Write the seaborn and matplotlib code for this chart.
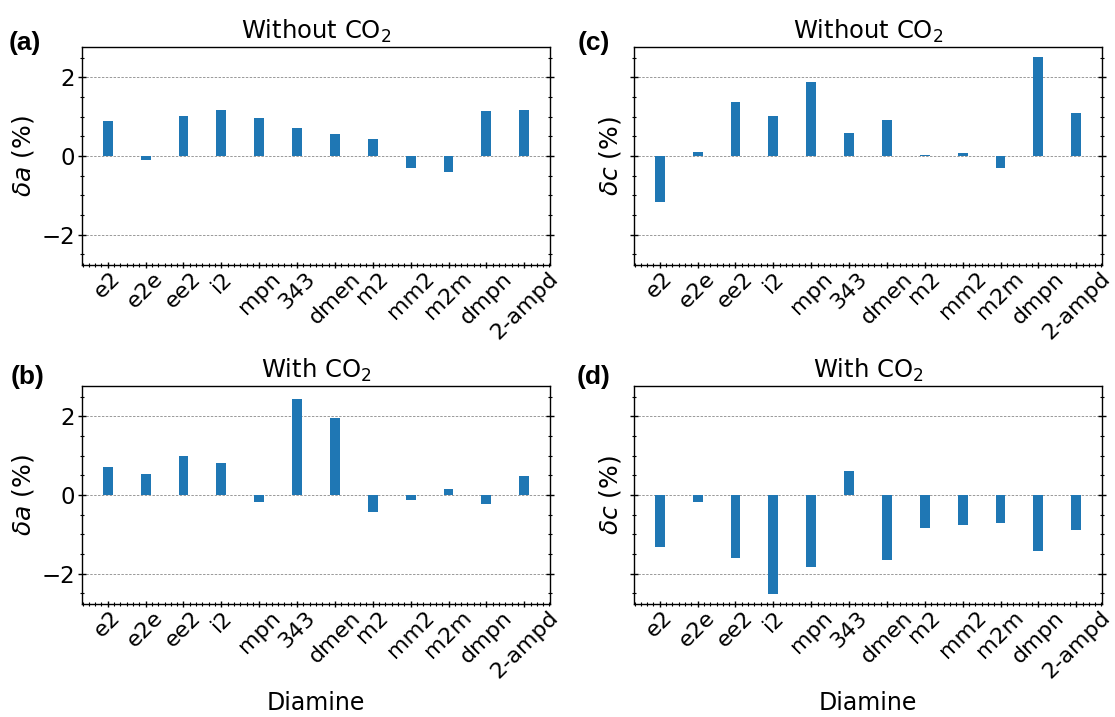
import matplotlib
matplotlib.use("Agg")
import matplotlib.pyplot as plt
from matplotlib.ticker import AutoMinorLocator, MultipleLocator
import seaborn as sns
import pandas as pd

diamines = ["e2", "e2e", "ee2", "i2", "mpn", "343", "dmen", "m2", "mm2", "m2m", "dmpn", "2-ampd"]

da_without = [0.89, -0.09, 1.02, 1.17, 0.97, 0.72, 0.57, 0.44, -0.30, -0.40, 1.15, 1.17]
da_with = [0.72, 0.54, 1.00, 0.82, -0.19, 2.44, 1.96, -0.42, -0.12, 0.14, -0.22, 0.49]
dc_without = [-1.16, 0.11, 1.38, 1.02, 1.88, 0.59, 0.92, 0.03, 0.08, -0.30, 2.51, 1.10]
dc_with = [-1.31, -0.19, -1.61, -2.52, -1.84, 0.62, -1.64, -0.83, -0.75, -0.70, -1.43, -0.88]

panels = [
    ("(a)", "Without CO$_2$", r"$\delta a$ (%)", da_without),
    ("(b)", "With CO$_2$", r"$\delta a$ (%)", da_with),
    ("(c)", "Without CO$_2$", r"$\delta c$ (%)", dc_without),
    ("(d)", "With CO$_2$", r"$\delta c$ (%)", dc_with),
]

fig = plt.figure(figsize=(11.15, 7.17), dpi=100)
W, H = 1115, 717
boxes = {
    "(a)": (82, 47, 550, 265),
    "(b)": (82, 386, 550, 604),
    "(c)": (634, 47, 1102, 265),
    "(d)": (634, 386, 1102, 604),
}
label_pos = {"(a)": (9, 43), "(b)": (11, 377), "(c)": (578, 43), "(d)": (577, 377)}

color = "#1f77b4"
for tag, title, ylab, vals in panels:
    l, t, r, b = boxes[tag]
    ax = fig.add_axes([l / W, 1 - b / H, (r - l) / W, (b - t) / H])
    df = pd.DataFrame({"Diamine": diamines, "val": vals})
    sns.barplot(data=df, x="Diamine", y="val", ax=ax, color=color,
                saturation=1, width=0.26, order=diamines)
    ax.set_xlim(-0.68, 11.68)
    ax.set_ylim(-2.77, 2.77)
    ax.yaxis.set_major_locator(MultipleLocator(2))
    ax.yaxis.set_minor_locator(MultipleLocator(0.5))
    ax.xaxis.set_minor_locator(AutoMinorLocator(6))
    ax.set_axisbelow(True)
    ax.yaxis.grid(True, which="major", linestyle=(0, (2.5, 1.5)), color="#999999", linewidth=0.7)
    ax.tick_params(axis="y", which="major", direction="inout", length=6, width=1,
                   labelsize=16.5, right=True, pad=2)
    ax.tick_params(axis="x", which="major", direction="inout", length=4, width=1,
                   labelsize=16, pad=0.5)
    ax.tick_params(axis="both", which="minor", direction="inout", length=2.5, width=0.8, right=True)
    ax.set_xticks(range(len(diamines)))
    ax.set_xticklabels(diamines, rotation=45, ha="center", fontsize=16)
    if tag in ("(b)", "(d)"):
        ax.set_xlabel("Diamine", fontsize=17, labelpad=6)
    else:
        ax.set_xlabel("")
    if tag in ("(c)", "(d)"):
        ax.tick_params(axis="y", labelleft=False)
        ax.set_ylabel(ylab, fontsize=18, labelpad=3)
    else:
        ax.set_ylabel(ylab, fontsize=18, labelpad=4)
    ax.set_title(title, fontsize=17.5, pad=6)
    for s in ax.spines.values():
        s.set_linewidth(1.0)
        s.set_color("black")
    x0, y0 = label_pos[tag]
    fig.text(x0 / W, 1 - y0 / H, tag, ha="left", va="center", fontsize=19,
             fontweight="bold", family="Liberation Sans")

fig.savefig("out.png", dpi=100)
